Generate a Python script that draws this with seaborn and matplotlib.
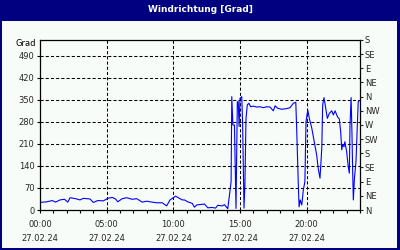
import numpy as np
import pandas as pd
import matplotlib
matplotlib.use("Agg")
import matplotlib.pyplot as plt
import seaborn as sns
from matplotlib.patches import Rectangle
from matplotlib.ticker import MultipleLocator

title = "Windrichtung [Grad]"
y_label = "Grad"
date_label = "27.02.24"
x_tick_hours = [0, 5, 10, 15, 20]
left_ticks = [0, 70, 140, 210, 280, 350, 420, 490]
right_ticks = [0, 45, 90, 135, 180, 225, 270, 315, 360, 405, 450, 495, 540]
right_labels = ["N", "NE", "E", "SE", "S", "SW", "W", "NW", "N", "NE", "E", "SE", "S"]

times = ["00:00", "00:30", "00:55", "01:10", "01:30", "01:50", "02:05", "02:15", "02:40", "03:00",
         "03:15", "03:45", "04:00", "04:20", "04:45", "05:05", "05:25", "05:40", "05:50", "06:10",
         "06:30", "06:55", "07:15", "07:40", "08:00", "08:25", "08:45", "09:10", "09:30", "09:45",
         "10:10", "10:20", "10:40", "10:50", "11:05", "11:25", "11:35", "11:45", "12:10", "12:20",
         "12:35", "12:55", "13:10", "13:20", "13:40", "13:50", "14:05", "14:20", "14:23", "14:28",
         "14:35", "14:42", "14:48", "14:52", "14:56", "15:00", "15:08", "15:12", "15:18", "15:22",
         "15:27", "15:33", "15:40", "15:48", "16:00", "16:15", "16:30", "16:45", "17:00", "17:15",
         "17:30", "17:38", "17:50", "18:08", "18:30", "18:45", "19:00", "19:11", "19:15", "19:22",
         "19:26", "19:31", "19:38", "19:45", "19:52", "19:57", "20:05", "20:12", "20:23", "20:34",
         "20:45", "20:52", "21:00", "21:08", "21:12", "21:18", "21:27", "21:33", "21:42", "21:53",
         "22:00", "22:08", "22:18", "22:27", "22:33", "22:38", "22:42", "22:48", "22:52", "23:00",
         "23:07", "23:12", "23:15", "23:20", "23:24", "23:27", "23:30", "23:35", "23:42", "23:48",
         "23:52", "23:57"]
direction = [24, 26, 30, 25, 32, 34, 25, 39, 36, 32,
             37, 35, 24, 30, 29, 37, 40, 35, 26, 36,
             39, 34, 36, 25, 28, 25, 23, 23, 13, 32,
             44, 40, 32, 32, 26, 21, 9, 16, 18, 19,
             7, 8, 6, 15, 13, 17, 4, 90, 360, 270,
             270, 5, 344, 344, 265, 355, 360, 265, 6, 79,
             291, 334, 339, 328, 330, 327, 328, 325, 328, 327,
             315, 331, 323, 320, 322, 325, 339, 342, 260, 90,
             10, 32, 16, 64, 90, 280, 318, 291, 260, 217,
             175, 132, 101, 196, 334, 357, 318, 291, 307, 315,
             302, 315, 297, 289, 249, 191, 209, 201, 217, 185,
             138, 117, 270, 357, 238, 122, 32, 101, 154, 270,
             344, 347]

hours = [int(t[:2]) + int(t[3:]) / 60 for t in times]
df = pd.DataFrame({"hour": hours, "deg": direction})

sns.set_style("ticks")
plt.rcParams["font.family"] = ["DejaVu Sans"]

navy = "#000080"
bg = "#F8FCF8"
fig = plt.figure(figsize=(4, 2.5), dpi=100, facecolor=navy)
bgax = fig.add_axes([0, 0, 1, 1], zorder=-10)
bgax.set_axis_off()
bgax.set_xlim(0, 400)
bgax.set_ylim(0, 250)
bgax.add_patch(Rectangle((2, 2), 395, 227, facecolor=bg, edgecolor="none"))
bgax.text(200, 241, title, color="white", fontsize=6.5,
          fontweight="bold", ha="center", va="center")
bgax.text(36, 206, y_label, fontsize=6, ha="right", va="center", color="black")

ax = fig.add_axes([40 / 400, 40 / 250, 320 / 400, 170 / 250])
ax.set_facecolor(bg)
sns.lineplot(data=df, x="hour", y="deg", ax=ax, color="#0000FF", lw=0.8)

ax.set_xlim(0, 24)
ax.set_ylim(0, 540)
ax.set_xticks(x_tick_hours)
ax.set_xticklabels([f"{h:02d}:00\n{date_label}" for h in x_tick_hours])
for t in ax.get_xticklabels():
    t.set_linespacing(1.7)
ax.xaxis.set_minor_locator(MultipleLocator(1))
ax.set_yticks(left_ticks)
ax.set_yticklabels([str(v) for v in left_ticks])
ax.set_xlabel("")
ax.set_ylabel("")

ax.tick_params(axis="both", which="both", direction="out", length=2.5,
               width=0.8, color="black", labelsize=6, pad=1.5)
ax.tick_params(axis="x", which="major", pad=5)

for s in ax.spines.values():
    s.set_visible(True)
    s.set_color("black")
    s.set_linewidth(0.9)

for v in left_ticks[1:]:
    ax.axhline(v, color="black", lw=0.75, ls=(0, (3, 2)), zorder=1)
for h in x_tick_hours[1:]:
    ax.axvline(h, color="black", lw=0.75, ls=(0, (3, 2)), zorder=1)

ax2 = ax.twinx()
ax2.set_ylim(0, 540)
ax2.set_yticks(right_ticks)
ax2.set_yticklabels(right_labels)
ax2.tick_params(axis="y", direction="out", length=2.5, width=0.8,
                labelsize=6, pad=1)
for s in ax2.spines.values():
    s.set_visible(False)

fig.savefig("out.png", dpi=100, facecolor=navy)
